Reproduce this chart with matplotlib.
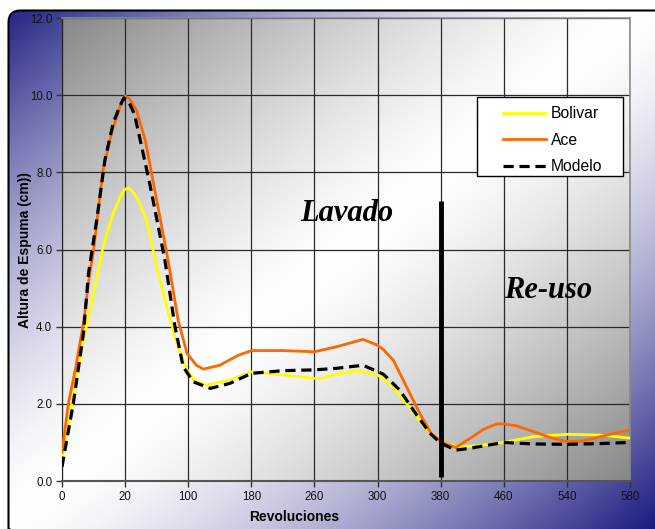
import numpy as np
import matplotlib
matplotlib.use("Agg")
import matplotlib.pyplot as plt
from matplotlib.patches import FancyBboxPatch, Rectangle

# Category axis labels (revolutions)
tick_labels = ["0", "20", "100", "180", "260", "300", "380", "460", "540", "580"]

# Curves sampled along the category axis (position, foam height in cm)
bolivar_pos = [0.0, 0.1, 0.18, 0.34, 0.5, 0.65, 0.81, 0.92, 0.99, 1.05, 1.12, 1.21, 1.34, 1.5,
               1.66, 1.82, 1.98, 2.1, 2.29, 2.66, 3.0, 3.51, 4.0, 4.1, 4.35, 4.67, 5.0, 5.19,
               5.46, 5.72, 5.94, 6.0, 6.27, 6.57, 7.0, 7.47, 8.0, 8.53, 9.0]
bolivar_val = [0.55, 1.41, 2.28, 3.65, 4.87, 6.07, 6.93, 7.35, 7.55, 7.6, 7.5, 7.28, 6.76, 5.55,
               4.52, 3.57, 2.88, 2.6, 2.49, 2.62, 2.83, 2.75, 2.66, 2.66, 2.77, 2.86, 2.75, 2.53,
               2.01, 1.45, 1.08, 1.02, 0.89, 0.91, 1.0, 1.15, 1.21, 1.19, 1.11]

ace_pos = [0.0, 0.1, 0.21, 0.34, 0.44, 0.5, 0.65, 0.79, 0.87, 0.94, 1.0, 1.07, 1.18, 1.32, 1.5,
           1.68, 1.84, 1.98, 2.13, 2.24, 2.5, 2.78, 3.0, 3.5, 4.0, 4.35, 4.77, 5.0, 5.09, 5.25,
           5.46, 5.67, 5.85, 6.0, 6.24, 6.47, 6.68, 6.89, 7.0, 7.2, 7.47, 7.73, 8.0, 8.26,
           8.53, 8.79, 9.0]
ace_val = [0.75, 2.0, 2.88, 4.09, 5.38, 5.98, 8.06, 9.05, 9.44, 9.82, 9.98, 9.9, 9.61, 8.83,
           7.28, 5.73, 4.17, 3.31, 3.0, 2.9, 3.0, 3.25, 3.38, 3.38, 3.35, 3.48, 3.67, 3.52, 3.41,
           3.13, 2.44, 1.75, 1.23, 1.02, 0.87, 1.11, 1.34, 1.48, 1.48, 1.43, 1.28, 1.13, 1.02,
           1.04, 1.15, 1.25, 1.32]

modelo_pos = [0.0, 0.18, 0.34, 0.42, 0.55, 0.68, 0.81, 0.9, 0.98, 1.06, 1.15, 1.39, 1.63,
              1.79, 1.92, 2.08, 2.35, 2.66, 3.0, 3.51, 4.0, 4.35, 4.77, 5.09, 5.35, 5.62,
              5.83, 6.0, 6.24, 6.47, 7.0, 7.47, 8.0, 8.53, 9.0]
modelo_val = [0.37, 2.02, 3.83, 5.38, 6.76, 8.32, 9.27, 9.65, 9.93, 9.82, 9.5, 7.71, 5.73,
              4.0, 2.96, 2.57, 2.4, 2.53, 2.79, 2.86, 2.88, 2.92, 3.0, 2.77, 2.36, 1.71,
              1.24, 0.98, 0.8, 0.85, 1.0, 0.96, 0.95, 0.97, 1.0]

# Washing / reuse boundary marker
divider_pos = 6.0
divider_span = [0.1, 7.25]

W, H = 655, 529
fig = plt.figure(figsize=(W / 100, H / 100), dpi=100)
fig.patch.set_facecolor("white")

# Background panel: diagonal navy-white-navy gradient inside a rounded frame
bg = fig.add_axes([0, 0, 1, 1])
bg.set_xlim(0, W)
bg.set_ylim(H, 0)
bg.axis("off")
nx, ny = np.meshgrid(np.linspace(0, 1, 300), np.linspace(0, 1, 240))
t = np.abs(nx + ny - 1.0)
f = t ** 1.5
navy = np.array([0.10, 0.10, 0.50])
img = 1.0 - f[..., None] * (1.0 - navy)
im = bg.imshow(img, extent=[0, W, H, 0], aspect="auto", interpolation="bilinear", zorder=0)
frame = FancyBboxPatch((8.5, 10.5), 660, 530, boxstyle="round,pad=0,rounding_size=12",
                       facecolor="none", edgecolor="black", linewidth=1.5, zorder=2)
bg.add_patch(frame)
im.set_clip_path(frame)

# Plot area
ax = fig.add_axes([62 / W, 1 - 481 / H, 568 / W, 463 / H])
ax.set_xlim(0, 9)
ax.set_ylim(0, 12)

gx, gy = np.meshgrid(np.linspace(0, 1, 300), np.linspace(0, 1, 240))
tg = np.abs(gx + gy - 1.0)
gray = 1.0 - 0.47 * tg ** 1.3
ax.imshow(np.dstack([gray, gray, gray]), extent=[0, 9, 0, 12], aspect="auto",
          interpolation="bilinear", zorder=0, origin="upper")

ax.set_xticks(range(len(tick_labels)))
ax.set_xticklabels(tick_labels)
ax.set_yticks(np.arange(0, 12.1, 2))
ax.set_yticklabels([f"{v:.1f}" for v in np.arange(0, 12.1, 2)])
ax.tick_params(axis="both", labelsize=8.3, length=4, width=1, color="#333333",
               labelcolor="#111111", pad=3)
for lab in ax.get_xticklabels() + ax.get_yticklabels():
    lab.set_family("Liberation Sans")

ax.grid(True, color="#2a2a2a", linewidth=0.9)
ax.set_axisbelow("line")

for side in ("top", "right"):
    ax.spines[side].set_color("#8a8a8a")
    ax.spines[side].set_linewidth(1.2)
ax.spines["left"].set_color("#222222")
ax.spines["bottom"].set_color("#555555")
ax.spines["bottom"].set_linewidth(1.5)

ax.plot(bolivar_pos, bolivar_val, color="#ffff00", linewidth=2.0, label="Bolivar", zorder=3)
ax.plot(ace_pos, ace_val, color="#ff6600", linewidth=2.0, label="Ace", zorder=3)
ax.plot(modelo_pos, modelo_val, color="black", linewidth=2.3, dashes=(3.2, 1.8),
        label="Modelo", zorder=4)

ax.plot([divider_pos, divider_pos], divider_span, color="black", linewidth=3.5,
        solid_capstyle="butt", zorder=5)

ax.text(3.77, 6.74, "Lavado", family="Liberation Serif", fontweight="bold",
        style="italic", fontsize=22, ha="left", va="baseline", zorder=6)
ax.text(7.0, 4.74, "Re-uso", family="Liberation Serif", fontweight="bold",
        style="italic", fontsize=22, ha="left", va="baseline", zorder=6)

ax.set_xlabel("Revoluciones", family="Liberation Sans", fontweight="bold", fontsize=10)
ax.xaxis.set_label_coords((294 - 62) / 568, -0.062)
ax.set_ylabel("Altura de Espuma (cm))", family="Liberation Sans", fontweight="bold",
              fontsize=10)
ax.yaxis.set_label_coords(-0.053, 0.5)

# Legend box drawn separately so entries sit with a wide left margin
ax.add_patch(Rectangle((0.731, 0.659), 0.257, 0.170, transform=ax.transAxes,
                       facecolor="white", edgecolor="black", linewidth=1.0, zorder=7))
leg = ax.legend(loc="upper left", bbox_to_anchor=(0.776, 0.809), frameon=False,
                prop={"family": "Liberation Sans", "size": 11.3}, handlelength=2.75,
                handletextpad=0.33, labelspacing=0.72, borderpad=0, borderaxespad=0)
leg.set_zorder(8)

fig.savefig("out.png", dpi=100)
